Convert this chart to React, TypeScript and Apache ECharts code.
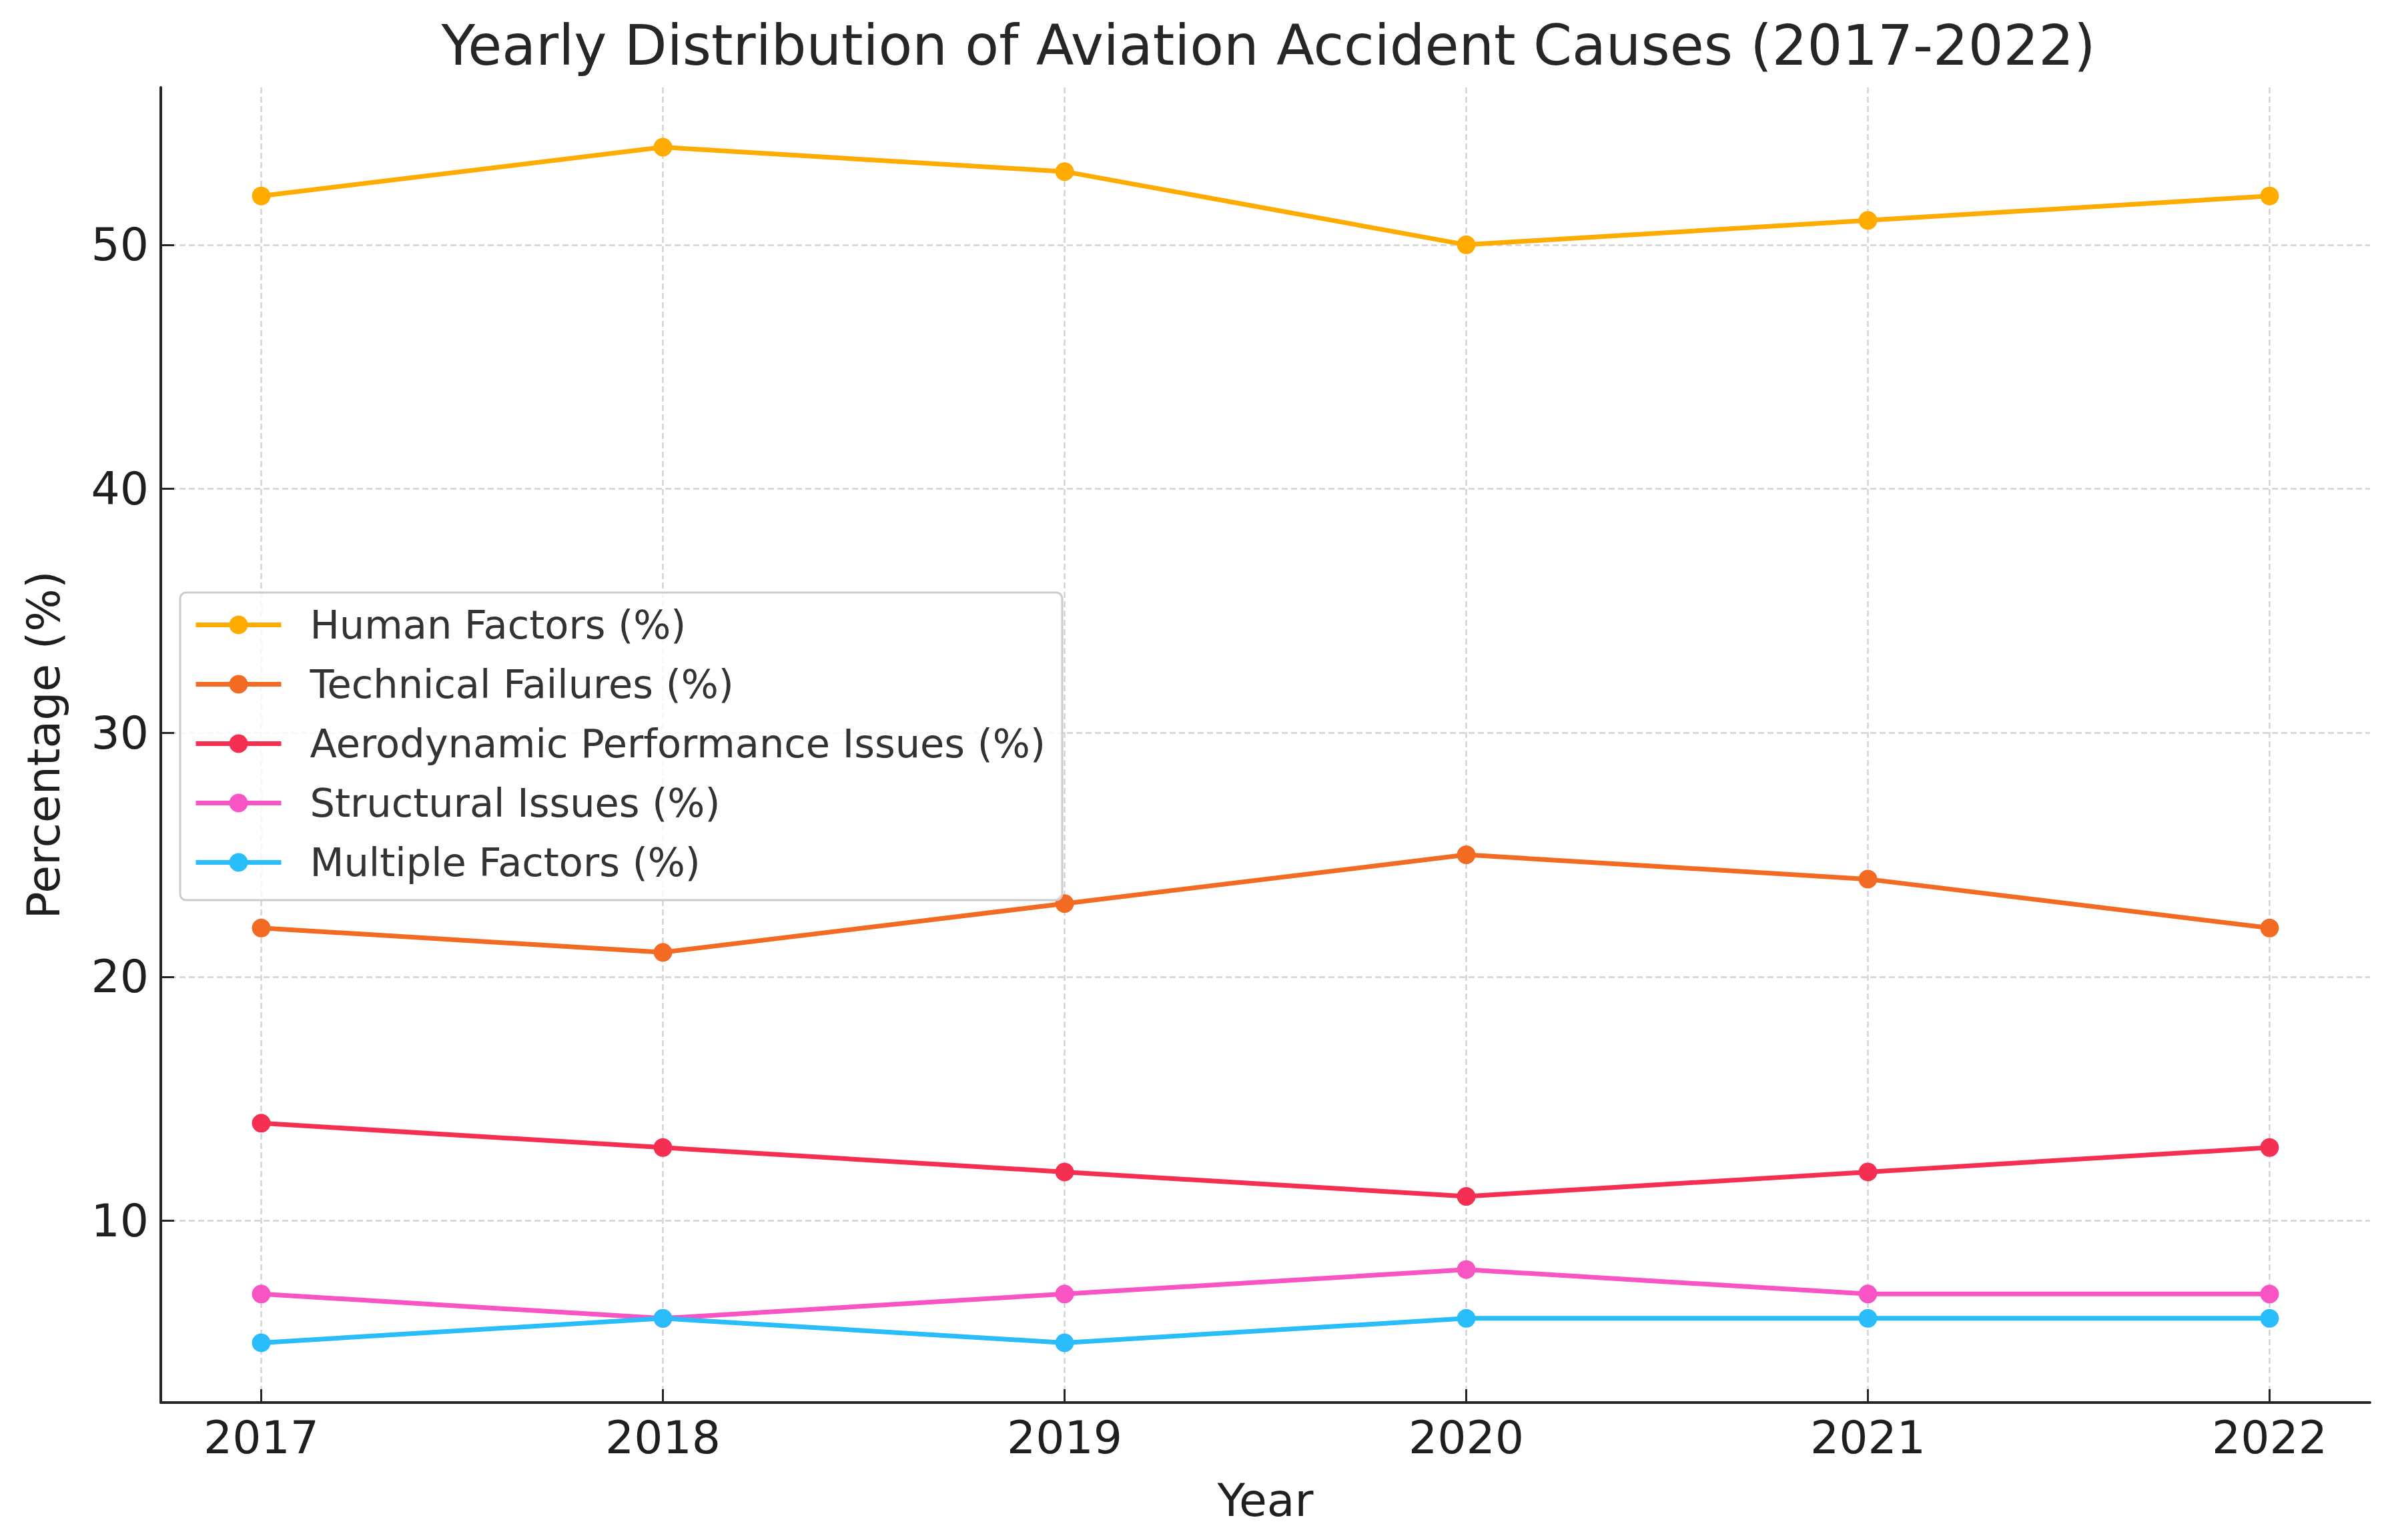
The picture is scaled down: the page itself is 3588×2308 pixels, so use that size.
import React, { useEffect, useRef } from "react";
import * as echarts from "echarts";

const years = [2017, 2018, 2019, 2020, 2021, 2022];
const humanFactors = [52, 54, 53, 50, 51, 52];
const technicalFailures = [22, 21, 23, 25, 24, 22];
const aerodynamicIssues = [14, 13, 12, 11, 12, 13];
const structuralIssues = [7, 6, 7, 8, 7, 7];
const multipleFactors = [5, 6, 5, 6, 6, 6];
const yTicks = [10, 20, 30, 40, 50];

const seriesDefs = [
  { name: "Human Factors (%)", values: humanFactors, color: "#ffab00" },
  { name: "Technical Failures (%)", values: technicalFailures, color: "#f36b22" },
  { name: "Aerodynamic Performance Issues (%)", values: aerodynamicIssues, color: "#f42f52" },
  { name: "Structural Issues (%)", values: structuralIssues, color: "#f954c4" },
  { name: "Multiple Factors (%)", values: multipleFactors, color: "#2abdfc" },
];

const FONT = "DejaVu Sans";
const TXT = "#1f1f1f";

export default function App() {
  const ref = useRef<HTMLDivElement>(null);
  useEffect(() => {
    if (!ref.current) return;
    const chart = echarts.init(ref.current, undefined, { renderer: "svg" });
    const gridLine = { show: true, lineStyle: { color: "#d3d3d3", width: 2.5, type: [9, 5] } };
    chart.setOption({
      animation: false,
      backgroundColor: "#ffffff",
      title: {
        text: "Yearly Distribution of Aviation Accident Causes (2017-2022)",
        left: 1896,
        textAlign: "center",
        top: 22,
        textStyle: { fontFamily: FONT, fontSize: 83, fontWeight: "normal", color: "#262626" },
      },
      grid: { left: 241, right: 36, top: 131, bottom: 206, containLabel: false },
      legend: {
        orient: "vertical",
        left: 270,
        top: 888,
        itemWidth: 128,
        itemHeight: 35,
        itemGap: 30,
        padding: [19, 25, 27, 20],
        backgroundColor: "rgba(255,255,255,0.8)",
        borderColor: "#cccccc",
        borderWidth: 3,
        borderRadius: 9,
        lineStyle: { width: 7 },
        textStyle: { fontFamily: FONT, fontSize: 59, color: "#333333", lineHeight: 59, padding: [0, 0, 0, 38] },
        data: seriesDefs.map((s) => s.name),
      },
      xAxis: {
        type: "value",
        min: 2016.75,
        max: 2022.25,
        name: "Year",
        nameLocation: "middle",
        nameGap: 112,
        nameTextStyle: { fontFamily: FONT, fontSize: 68, color: TXT },
        axisLine: { show: true, onZero: false, lineStyle: { color: "#262626", width: 4 } },
        axisTick: { show: true, inside: true, customValues: years, length: 20, lineStyle: { color: "#262626", width: 3 } },
        axisLabel: {
          customValues: years,
          margin: 18,
          fontFamily: FONT,
          fontSize: 68,
          color: TXT,
          formatter: (v: number) => String(v),
        },
        splitLine: gridLine,
      },
      yAxis: {
        type: "value",
        min: 2.55,
        max: 56.45,
        name: "Percentage (%)",
        nameLocation: "middle",
        nameGap: 142,
        nameTextStyle: { fontFamily: FONT, fontSize: 68, color: TXT },
        axisLine: { show: true, onZero: false, lineStyle: { color: "#262626", width: 4 } },
        axisTick: { show: true, inside: true, customValues: yTicks, length: 20, lineStyle: { color: "#262626", width: 3 } },
        axisLabel: {
          customValues: yTicks,
          margin: 18,
          fontFamily: FONT,
          fontSize: 68,
          color: TXT,
          formatter: (v: number) => String(v),
        },
        splitLine: gridLine,
      },
      series: seriesDefs.map((s) => ({
        name: s.name,
        type: "line",
        data: years.map((y, i) => [y, s.values[i]]),
        symbol: "circle",
        symbolSize: 28,
        color: s.color,
        itemStyle: { color: s.color },
        lineStyle: { color: s.color, width: 7 },
        emphasis: { disabled: true },
      })),
    });
    return () => chart.dispose();
  }, []);
  return (
    <div
      ref={ref}
      style={{ position: "fixed", left: 0, top: 0, width: "3588px", height: "2308px" }}
    />
  );
}
